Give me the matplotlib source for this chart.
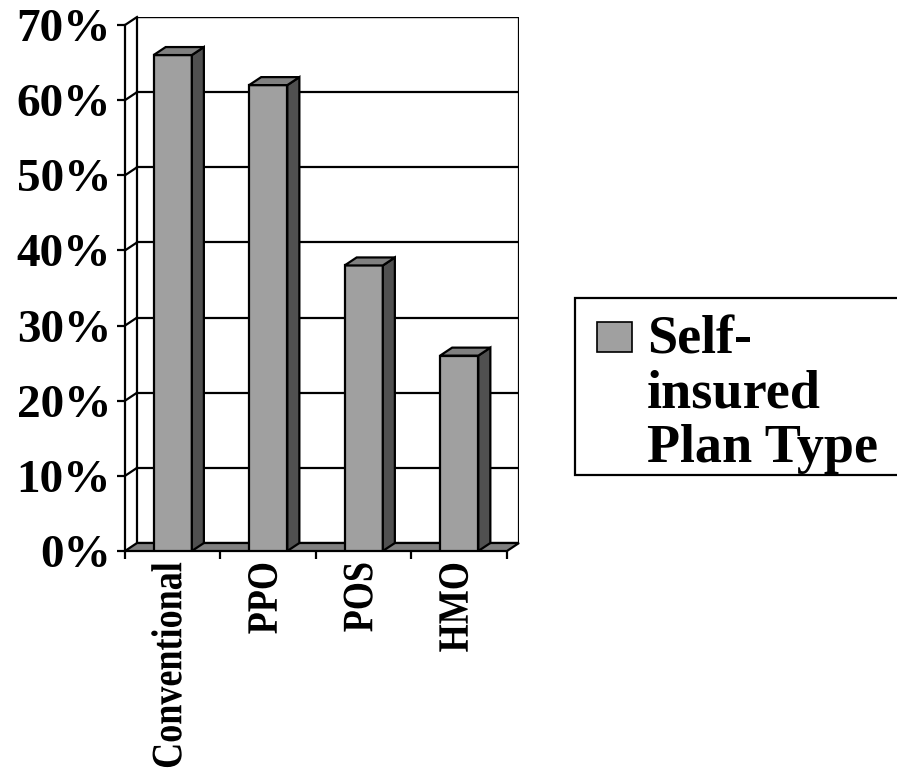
import matplotlib.pyplot as plt
from matplotlib.patches import Polygon, Rectangle
from matplotlib.patheffects import AbstractPathEffect
from matplotlib.transforms import Affine2D

plans = ["Conventional", "PPO", "POS", "HMO"]
self_insured = [66, 62, 38, 26]
pct_ticks = [0, 10, 20, 30, 40, 50, 60, 70]
pct_labels = ["0%", "10%", "20%", "30%", "40%", "50%", "60%", "70%"]
legend_label = "Self-\ninsured\nPlan Type"

FRONT = "#a0a0a0"
TOP = "#808080"
SIDE = "#505050"
FLOOR = "#808080"
LW = 1.6
DX, DY = 0.126, 1.065   # depth of the 3d box in data units
BAR_W = 0.4

plt.rcParams["font.family"] = ["Liberation Serif", "DejaVu Serif"]
plt.rcParams["font.weight"] = "bold"


class Tall(AbstractPathEffect):
    """Stretch glyphs across the baseline so the labels read as a condensed face."""

    def __init__(self, sy):
        super().__init__()
        self.sy = sy

    def draw_path(self, renderer, gc, tpath, affine, rgbFace=None):
        renderer.draw_path(gc, tpath, Affine2D().scale(1, self.sy) + affine, rgbFace)


W, H = 897, 777
fig = plt.figure(figsize=(W / 100, H / 100), dpi=100)
ax = fig.add_axes([125 / W, (H - 551) / H, 394 / W, 534 / H])
ax.set_facecolor("none")
ax.set_xlim(-0.5, len(plans) - 0.5 + DX)
ax.set_ylim(0, 70 + DY)
for s in ax.spines.values():
    s.set_visible(False)
ax.spines["left"].set_visible(True)
ax.spines["left"].set_bounds(0, 70)
ax.spines["left"].set_linewidth(LW)

# back wall and gridlines
x0, x1 = -0.5, len(plans) - 0.5
ax.add_patch(Rectangle((x0 + DX, DY), x1 - x0, 70, facecolor="white",
                       edgecolor="black", linewidth=LW, zorder=1))
for t in pct_ticks[1:]:
    ax.plot([x0 + DX, x1 + DX], [t + DY, t + DY], color="black", lw=LW, zorder=1)
    ax.plot([x0, x0 + DX], [t, t + DY], color="black", lw=LW, zorder=1,
            clip_on=False)

# floor
ax.add_patch(Polygon([(x0, 0), (x1, 0), (x1 + DX, DY), (x0 + DX, DY)],
                     closed=True, facecolor=FLOOR, edgecolor="black",
                     linewidth=LW, zorder=2, clip_on=False))

# columns: front face from ax.bar, side and top faces offset by the depth
xs = list(range(len(plans)))
ax.bar(xs, self_insured, width=BAR_W, color=FRONT, edgecolor="black",
       linewidth=LW, zorder=3)
for x, v in zip(xs, self_insured):
    l, r = x - BAR_W / 2, x + BAR_W / 2
    ax.add_patch(Polygon([(r, 0), (r + DX, DY), (r + DX, v + DY), (r, v)],
                         closed=True, facecolor=SIDE, edgecolor="black",
                         linewidth=LW, zorder=3))
    ax.add_patch(Polygon([(l, v), (r, v), (r + DX, v + DY), (l + DX, v + DY)],
                         closed=True, facecolor=TOP, edgecolor="black",
                         linewidth=LW, zorder=3))

# axes ticks and labels
ax.set_yticks(pct_ticks)
ax.set_yticklabels(pct_labels, fontsize=34, fontweight="bold")
ax.tick_params(axis="y", length=6, width=LW, pad=4, direction="out")

ax.set_xticks(xs)
ax.set_xticklabels(plans, fontsize=26, fontweight="bold", rotation=90)
ax.set_xticks([x0 + i for i in range(len(plans) + 1)], minor=True)
ax.tick_params(axis="x", which="major", length=0, pad=8)
ax.tick_params(axis="x", which="minor", length=6, width=LW, direction="out")
for lbl in ax.get_xticklabels():
    lbl.set_path_effects([Tall(1.2)])

# legend box running off the right edge
fig.patches.append(Rectangle((575 / W, (H - 475) / H), 0.5, 177 / H,
                             transform=fig.transFigure, facecolor="white",
                             edgecolor="black", linewidth=LW))
fig.patches.append(Rectangle((597 / W, (H - 352) / H), 35 / W, 30 / H,
                             transform=fig.transFigure, facecolor=FRONT,
                             edgecolor="black", linewidth=1.2))
fig.text(647 / W, 1 - 316 / H, legend_label, fontsize=39, fontweight="bold",
         va="top", ha="left", linespacing=1.1)

fig.savefig("out.png", dpi=100)
